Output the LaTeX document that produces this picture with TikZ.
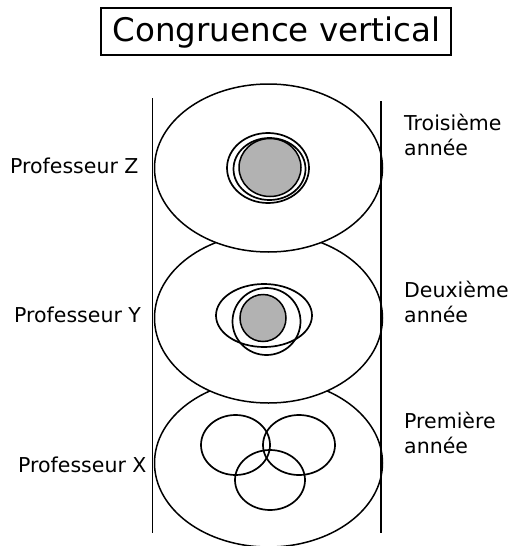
\documentclass[tikz,border=0pt]{standalone}
\usepackage{fontspec}
\setmainfont{DejaVu Sans}
\begin{document}
\begin{tikzpicture}[x=1pt,y=-1pt,
  outer/.style={draw=black,line width=1.5pt,fill=white},
  inner/.style={draw=black,line width=1.7pt},
  shade/.style={draw=black,line width=1.5pt,fill=gray!60},
  lab/.style={font=\fontsize{20.5}{25}\selectfont,inner sep=0pt,anchor=base west,align=left},
  rule/.style={draw=black,line width=1.6pt}]
\useasboundingbox (0,0) rectangle (508,546);
% title
\node[draw=black,line width=1.5pt,minimum width=350pt,minimum height=47pt,inner sep=0pt] (title) at (276,31.5) {};
\node[inner sep=0pt,anchor=base,font=\fontsize{32.5}{36}\selectfont] (titletext) at (276.5,41.5) {Congruence vertical};
% bottom level
\draw[outer] (268.5,463) ellipse [x radius=114,y radius=84];
\draw[inner] (235.5,445) ellipse [x radius=34.5,y radius=30];
\draw[inner] (299,445) ellipse [x radius=36,y radius=30];
\draw[inner] (270,480) ellipse [x radius=35,y radius=30];
% middle level
\draw[outer] (268.5,318) ellipse [x radius=114,y radius=85];
\draw[shade] (263,318) ellipse [x radius=23,y radius=23.5];
\draw[inner] (264,315.5) ellipse [x radius=48,y radius=31.5];
\draw[inner] (266.5,321.5) ellipse [x radius=34,y radius=33.5];
% top level
\draw[outer] (268.5,168) ellipse [x radius=114,y radius=84];
\draw[shade] (270,167.5) ellipse [x radius=31,y radius=29];
\draw[inner] (269.5,169) ellipse [x radius=36,y radius=31];
\draw[inner] (268,168) ellipse [x radius=41,y radius=35];
% vertical rules
\coordinate (lt) at (152.5,98);
\coordinate (lb) at (152.5,533);
\coordinate (rt) at (381,101);
\coordinate (rb) at (381,533);
\draw[rule] (lt) -- (lb);
\draw[rule] (rt) -- (rb);
% labels
\node[lab] (pz) at (10,173) {Professeur Z};
\node[lab] (py) at (14,322) {Professeur Y};
\node[lab] (px) at (18,472) {Professeur X};
\node[lab] (a3) at (404,155) {Troisième\\année};
\node[lab] (a2) at (404,322) {Deuxième\\année};
\node[lab] (a1) at (404,453) {Première\\année};
\end{tikzpicture}
\end{document}
